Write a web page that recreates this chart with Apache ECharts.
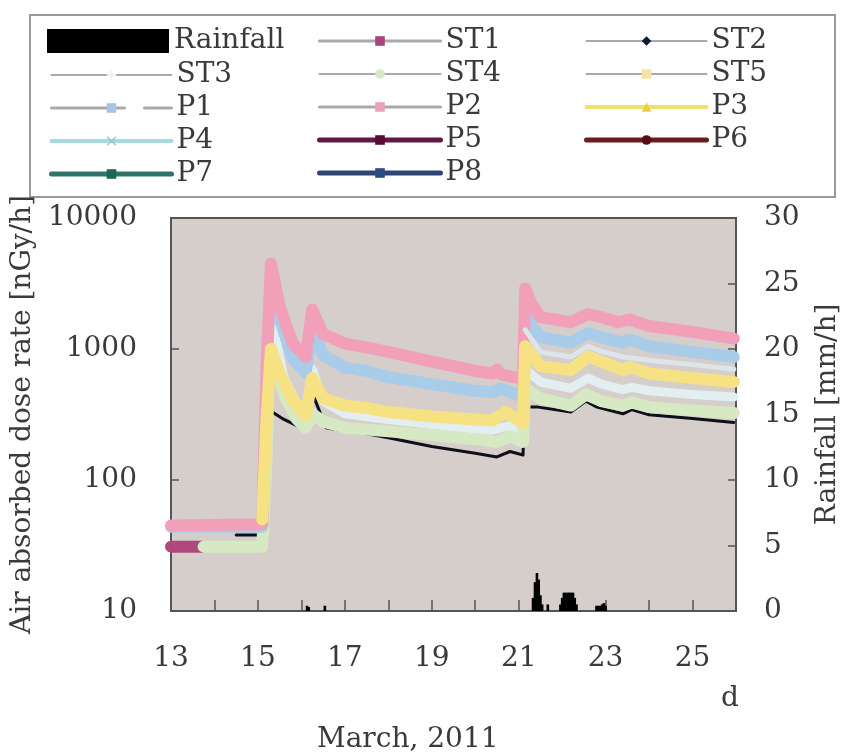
<!DOCTYPE html>
<html>
<head>
<meta charset="utf-8">
<script src="https://cdn.jsdelivr.net/npm/echarts@6/dist/echarts.min.js"></script>
<style>
  html, body { margin: 0; background: #fff; }
  #chart { width: 850px; height: 755px; }
</style>
</head>
<body>
<div id="chart"></div>
<script>
// day of March 2011 -> air absorbed dose rate [nGy/h]
const st1 = [[13, 31], [13.72, 31]]
const st2 = [[14.5, 38], [15.1, 38], [15.15, 1450], [15.27, 340], [15.6, 290], [16.0, 250], [16.2, 490], [16.3, 420],
  [16.57, 250], [17, 235], [17.5, 225], [18, 210], [19, 180], [20, 160], [20.5, 150], [20.8, 165], [21.1, 155],
  [21.13, 360], [21.45, 360], [22.2, 330], [22.55, 400], [22.8, 360], [23.4, 320], [23.6, 345], [24, 315], [25, 295], [25.95, 275]]
const st3 = [[15.15, 100], [15.25, 1200], [15.35, 1500], [15.6, 600], [15.9, 380], [16.1, 330], [16.25, 700], [16.5, 400],
  [17, 320], [18, 290], [19, 265], [20, 245], [20.4, 240], [20.8, 260], [21.1, 235], [21.15, 700], [21.5, 560],
  [22.2, 500], [22.6, 600], [22.9, 540], [23.4, 490], [23.6, 510], [24, 480], [25, 450], [25.95, 430]]
const st4 = [[13.75, 31], [15.1, 31], [15.2, 150], [15.25, 700], [15.35, 900], [15.6, 450], [15.9, 290], [16.1, 250],
  [16.25, 320], [16.5, 280], [17, 250], [18, 235], [19, 220], [20, 205], [20.5, 195], [20.8, 215], [21.1, 195],
  [21.15, 500], [21.5, 420], [22.2, 370], [22.55, 450], [22.9, 400], [23.4, 370], [23.6, 390], [24, 360], [25, 340], [25.95, 325]]
const st5 = []
const p1 = [[13, 44], [15.1, 44], [15.2, 700], [15.3, 4000], [15.5, 1700], [15.8, 850], [16.1, 660], [16.25, 1400],
  [16.5, 900], [17, 720], [17.5, 680], [18, 610], [19, 540], [20, 480], [20.4, 470], [20.6, 500], [20.8, 470],
  [21.1, 430], [21.15, 1900], [21.3, 1500], [21.5, 1230], [22.2, 1120], [22.6, 1320], [22.9, 1230], [23.4, 1120],
  [23.55, 1180], [24, 1050], [25, 950], [25.95, 870]]
const p2 = [[13, 45], [15.1, 46], [15.2, 800], [15.3, 4500], [15.5, 2100], [15.8, 1100], [16.1, 870], [16.25, 2000],
  [16.5, 1300], [17, 1100], [17.5, 1030], [18, 950], [19, 800], [20, 680], [20.4, 650], [20.5, 700], [20.6, 640],
  [21.1, 590], [21.15, 2900], [21.3, 2200], [21.5, 1750], [22.2, 1600], [22.6, 1850], [22.9, 1750], [23.3, 1600],
  [23.55, 1680], [24, 1500], [25, 1350], [25.95, 1200]]
const p3 = [[15.1, 50], [15.2, 300], [15.3, 1000], [15.5, 650], [15.8, 410], [16.1, 310], [16.25, 600], [16.5, 420],
  [17, 370], [17.5, 355], [18, 330], [19, 305], [20, 290], [20.4, 285], [20.7, 330], [20.9, 300], [21.1, 270],
  [21.15, 1050], [21.5, 740], [22.2, 690], [22.6, 880], [22.9, 800], [23.4, 690], [23.55, 730], [24, 650], [25, 600], [25.95, 560]]
const p4 = [[21.15, 1400], [21.5, 950], [22.2, 870], [22.6, 1050], [22.9, 960], [23.4, 870], [24, 820], [25, 760], [25.95, 700]]
const p5 = []
const p6 = []
const p7 = []
const p8 = []

// hourly rainfall [mm/h]
const rainTime = [16.13, 16.17, 16.54,
  21.33, 21.375, 21.42, 21.46, 21.5, 21.54, 21.67,
  21.96, 22.0, 22.04, 22.08, 22.13, 22.17, 22.21, 22.25, 22.29, 22.33,
  22.79, 22.83, 22.88, 22.92, 22.96, 23.0]
const rainValue = [0.4, 0.3, 0.4,
  1.0, 2.2, 2.9, 2.4, 1.2, 0.5, 0.5,
  0.5, 1.0, 1.4, 1.4, 1.4, 1.4, 1.4, 1.4, 1.0, 0.5,
  0.4, 0.4, 0.4, 0.5, 0.6, 0.4]

const leftTicks = [10, 100, 1000, 10000]
const dayLabels = [13, 15, 17, 19, 21, 23, 25]

const FONT = 'DejaVu Serif'
const FS = 28
const TXT = '#3a3a3a'
const crossIcon = 'path://M4,0L6,0L6,4L10,4L10,6L6,6L6,10L4,10L4,6L0,6L0,4L4,4Z'
const xIcon = 'path://M0,1L1,0L5,4L9,0L10,1L6,5L10,9L9,10L5,6L1,10L0,9L4,5Z'
const barIcon = 'path://M4,0L6,0L6,10L4,10Z'

function lineSeries(name, data, color, width, symbol) {
  return {
    name: name,
    type: 'line',
    data: data,
    symbol: symbol,
    showSymbol: false,
    silent: true,
    lineStyle: { color: color, width: width, cap: 'round', join: 'round' },
    itemStyle: { color: color }
  }
}

function legendItem(name, line, width, marker, type) {
  return {
    name: name,
    lineStyle: { color: line, width: width, type: type || 'solid' },
    itemStyle: { color: marker }
  }
}

const legendBase = {
  orient: 'vertical',
  padding: 0,
  itemGap: 3,
  itemWidth: 120,
  itemHeight: 12,
  selectedMode: false,
  textStyle: { fontFamily: FONT, fontSize: FS, lineHeight: 30, color: TXT }
}

const chart = echarts.init(document.getElementById('chart'))

chart.setOption({
  animation: false,
  backgroundColor: '#fff',
  title: {
    text: 'March, 2011',
    left: 312,
    top: 721,
    textStyle: { fontFamily: FONT, fontSize: FS, fontWeight: 'normal', color: TXT }
  },
  graphic: [{
    type: 'rect',
    z: 0,
    shape: { x: 30, y: 15, width: 805, height: 182 },
    style: { fill: '#fff', stroke: '#9a9a9a', lineWidth: 2 }
  }],
  legend: [
    Object.assign({}, legendBase, {
      left: 47, top: 26, itemWidth: 122, itemHeight: 24,
      data: [{ name: 'Rainfall', icon: 'rect', itemStyle: { color: '#000' } }]
    }),
    Object.assign({}, legendBase, {
      left: 49, top: 60,
      data: [
        legendItem('ST3', '#a9a9a9', 2, '#e8f0f4'),
        legendItem('P1', '#a9a9a9', 3, '#a9c4e0', [73, 20]),
        legendItem('P4', '#a6d8e0', 4, '#8cc8d4'),
        legendItem('P7', '#2e7468', 5, '#1e6458')
      ]
    }),
    Object.assign({}, legendBase, {
      left: 317, top: 26, itemWidth: 121,
      data: [
        legendItem('ST1', '#a9a9a9', 3, '#a8457a'),
        legendItem('ST4', '#a9a9a9', 2, '#d8e8c8'),
        legendItem('P2', '#a9a9a9', 3, '#eea0bf'),
        legendItem('P5', '#5e1a44', 5, '#5a0a3a'),
        legendItem('P8', '#2e4474', 5, '#2a4a80')
      ]
    }),
    Object.assign({}, legendBase, {
      left: 584, top: 26,
      data: [
        legendItem('ST2', '#a9a9a9', 2, '#0c1838'),
        legendItem('ST5', '#a9a9a9', 2, '#f4e4a8'),
        legendItem('P3', '#efe070', 4, '#e8d040'),
        legendItem('P6', '#6a1c1c', 5, '#5a0c10')
      ]
    })
  ],
  grid: {
    left: 171,
    right: 101,
    top: 218,
    bottom: 144,
    show: true,
    backgroundColor: '#d5cecb',
    borderColor: '#555',
    borderWidth: 2
  },
  xAxis: {
    type: 'value',
    min: 13,
    max: 26,
    interval: 1,
    name: 'd',
    nameLocation: 'end',
    nameGap: -6,
    nameTextStyle: { fontFamily: FONT, fontSize: FS, color: TXT, align: 'center', verticalAlign: 'top', padding: [74, 0, 0, 0] },
    splitLine: { show: false },
    axisLine: { lineStyle: { color: '#555', width: 2 } },
    axisTick: { inside: true, length: 11, lineStyle: { color: '#555', width: 1.5 } },
    axisLabel: {
      margin: 34,
      fontFamily: FONT,
      fontSize: FS,
      color: TXT,
      formatter: function (v) {
        const d = Math.round(v)
        return dayLabels.indexOf(d) >= 0 ? String(d) : ''
      }
    }
  },
  yAxis: [{
    type: 'log',
    logBase: 10,
    min: 10,
    max: 10000,
    name: 'Air absorbed dose rate [nGy/h]',
    nameLocation: 'middle',
    nameGap: 117,
    nameTextStyle: { fontFamily: FONT, fontSize: FS, color: TXT },
    splitLine: { show: false },
    minorTick: { show: false },
    axisLine: { show: true, lineStyle: { color: '#555', width: 2 } },
    axisTick: { inside: true, length: 8, lineStyle: { color: '#555', width: 1.5 } },
    axisLabel: {
      margin: 34,
      fontFamily: FONT,
      fontSize: FS,
      color: TXT,
      formatter: function (v) {
        const r = Math.round(v)
        return leftTicks.indexOf(r) >= 0 ? String(r) : ''
      }
    }
  }, {
    type: 'value',
    position: 'right',
    min: 0,
    max: 30,
    interval: 5,
    name: 'Rainfall [mm/h]',
    nameLocation: 'middle',
    nameGap: 78,
    nameTextStyle: { fontFamily: FONT, fontSize: FS, color: TXT },
    splitLine: { show: false },
    axisLine: { show: true, lineStyle: { color: '#555', width: 2 } },
    axisTick: { inside: true, length: 8, lineStyle: { color: '#555', width: 1.5 } },
    axisLabel: { margin: 28, fontFamily: FONT, fontSize: FS, color: TXT }
  }],
  series: [
    {
      name: 'Rainfall',
      type: 'bar',
      yAxisIndex: 1,
      barWidth: 2.6,
      silent: true,
      itemStyle: { color: '#000' },
      data: rainTime.map(function (t, i) { return [t, rainValue[i]] })
    },
    lineSeries('ST1', st1, '#b0487e', 12, 'rect'),
    lineSeries('ST2', st2, '#0d0f1a', 3, 'diamond'),
    lineSeries('ST3', st3, '#e3eef0', 9, crossIcon),
    lineSeries('ST4', st4, '#d6e9c3', 12, 'circle'),
    lineSeries('ST5', st5, '#f4e4a8', 4, 'rect'),
    lineSeries('P1', p1, '#a9cce8', 12, 'rect'),
    lineSeries('P2', p2, '#f2a0ba', 12, 'rect'),
    lineSeries('P3', p3, '#f6e283', 12, 'triangle'),
    lineSeries('P4', p4, '#dde5ea', 5, xIcon),
    lineSeries('P5', p5, '#5e1a44', 4, 'rect'),
    lineSeries('P6', p6, '#6a1c1c', 4, 'circle'),
    lineSeries('P7', p7, '#2e7468', 4, barIcon),
    lineSeries('P8', p8, '#2e4474', 4, 'rect')
  ]
})
</script>
</body>
</html>
